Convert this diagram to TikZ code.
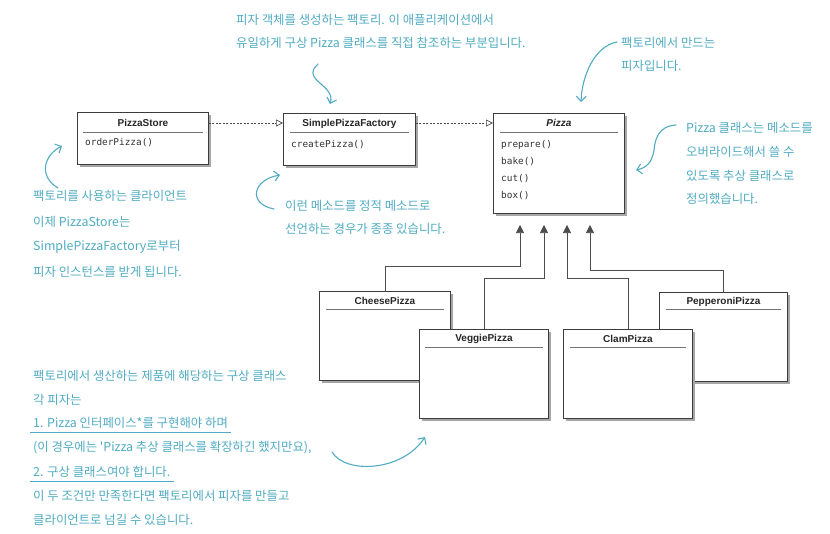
\documentclass[tikz,border=0pt]{standalone}
\usepackage{fontspec}
\setmainfont{Liberation Sans}
\setmonofont{DejaVu Sans Mono}
\newfontfamily\kr{Noto Sans CJK KR}
\usetikzlibrary{arrows.meta,shadows,calc}
\definecolor{ann}{RGB}{80,172,194}
\definecolor{boxline}{RGB}{60,60,60}
\begin{document}
\begin{tikzpicture}[x=1pt,y=-1pt,
 cls/.style={draw=boxline, line width=0.9pt, fill=white, rectangle, inner sep=0, anchor=north west,
   drop shadow={shadow xshift=3pt, shadow yshift=-3pt, fill=black!35, opacity=1}},
 ctitle/.style={font=\fontsize{10}{12}\selectfont\bfseries, text=black!85, inner sep=0},
 meth/.style={font=\fontsize{9.4}{11}\selectfont\ttfamily, text=black!80, anchor=west, inner sep=0},
 sepline/.style={draw=black!55, line width=0.6pt},
 note/.style={font=\kr\fontsize{12.4}{14}\selectfont, text=ann, anchor=west, inner sep=0},
 noteline/.style={draw=ann, line width=1.1pt, line cap=round, -{Straight Barb[length=5pt,width=10pt]}},
 uline/.style={draw=ann, line width=0.8pt},
 dep/.style={draw=black!70, line width=0.7pt, dash pattern=on 2pt off 1.5pt, -{Triangle[open,length=7pt,width=7pt]}},
 inh/.style={draw=black!70, line width=0.7pt, -{Triangle[length=8pt,width=8pt]}}
]
\useasboundingbox[fill=white] (0,0) rectangle (830,533);

% ---------- inheritance targets ----------
\coordinate (t1) at (520,225);
\coordinate (t2) at (544,225);
\coordinate (t3) at (567,225);
\coordinate (t4) at (590,225);

% ---------- class boxes ----------
\node[cls, minimum width=131pt, minimum height=52pt] (store) at (77,112) {};
\node[cls, minimum width=132pt, minimum height=52pt] (spf) at (283,113) {};
\node[cls, minimum width=131pt, minimum height=100pt] (pizza) at (493,113) {};
\node[cls, minimum width=131pt, minimum height=89pt] (cheese) at (319,291) {};
\node[cls, minimum width=128pt, minimum height=89pt] (pepp) at (659,292) {};
\node[cls, minimum width=129pt, minimum height=89pt] (veggie) at (419,329) {};
\node[cls, minimum width=129pt, minimum height=89pt] (clam) at (563,329) {};

\draw[inh] (cheese.north) -- ++(0,-25) -| (t1);
\draw[inh] (veggie.north) -- ++(0,-51) -| (t2);
\draw[inh] (clam.north) -- ++(0,-51) -| (t3);
\draw[inh] (pepp.north) -- ++(0,-22) -| (t4);

% titles
\node[ctitle] (storeT) at ($(store.north)+(0,11)$) {PizzaStore};
\node[ctitle] (spfT) at ($(spf.north)+(0,11)$) {SimplePizzaFactory};
\node[ctitle, font=\fontsize{10}{12}\selectfont\bfseries\itshape] (pizzaT) at ($(pizza.north)+(0,10)$) {Pizza};
\node[ctitle] (cheeseT) at ($(cheese.north)+(0,10)$) {CheesePizza};
\node[ctitle] (veggieT) at ($(veggie.north)+(0,10)$) {VeggiePizza};
\node[ctitle] (clamT) at ($(clam.north)+(0,10)$) {ClamPizza};
\node[ctitle] (peppT) at ($(pepp.north)+(0,10)$) {PepperoniPizza};

% separators
\draw[sepline] ($(store.north west)+(6,20)$) -- ($(store.north east)+(-6,20)$);
\draw[sepline] ($(spf.north west)+(7,19)$) -- ($(spf.north east)+(-7,19)$);
\draw[sepline] ($(pizza.north west)+(7,19)$) -- ($(pizza.north east)+(-7,19)$);
\draw[sepline] ($(cheese.north west)+(7,18)$) -- ($(cheese.north east)+(-7,18)$);
\draw[sepline] ($(veggie.north west)+(6,18)$) -- ($(veggie.north east)+(-6,18)$);
\draw[sepline] ($(clam.north west)+(7,18)$) -- ($(clam.north east)+(-7,18)$);
\draw[sepline] ($(pepp.north west)+(7,17)$) -- ($(pepp.north east)+(-7,17)$);

% methods
\node[meth] (m1) at (85,143) {orderPizza()};
\node[meth] (m2) at (291,145) {createPizza()};
\node[meth] (m3) at (501,145) {prepare()};
\node[meth] (m4) at (501,162) {bake()};
\node[meth] (m5) at (501,179) {cut()};
\node[meth] (m6) at (501,196) {box()};

% dependencies
\draw[dep] ($(store.north east)+(0,11)$) -- ($(spf.north west)+(0,10)$);
\draw[dep] ($(spf.north east)+(0,10)$) -- ($(pizza.north west)+(0,10)$);

% ---------- annotations ----------
\node[note] (top1) at (236,20) {피자 객체를 생성하는 팩토리. 이 애플리케이션에서};
\node[note] (top2) at (236,43) {유일하게 구상 Pizza 클래스를 직접 참조하는 부분입니다.};
\coordinate (a1s) at (318,64);
\coordinate (a1e) at (330,104);
\draw[noteline] (a1s) .. controls (300,80) and (336,85) .. (a1e);

\node[note] (pr1) at (621,43) {팩토리에서 만드는};
\node[note] (pr2) at (621,66) {피자입니다.};
\coordinate (a2s) at (617,42);
\coordinate (a2e) at (581,102);
\draw[noteline] (a2s) .. controls (595,46) and (582,75) .. (a2e);

\node[note] (ps1) at (33,196) {팩토리를 사용하는 클라이언트};
\node[note] (ps2) at (33,222) {이제 PizzaStore는};
\node[note] (ps3) at (33,247) {SimplePizzaFactory로부터};
\node[note] (ps4) at (33,272) {피자 인스턴스를 받게 됩니다.};
\coordinate (a3s) at (58,188);
\coordinate (a3e) at (62,146);
\draw[noteline] (a3s) .. controls (38,176) and (44,155) .. (a3e);

\node[note] (sm1) at (285,206) {이런 메소드를 정적 메소드로};
\node[note] (sm2) at (285,229) {선언하는 경우가 종종 있습니다.};
\coordinate (a4s) at (274,209);
\coordinate (a4e) at (280,175);
\draw[noteline] (a4s) .. controls (248,204) and (252,180) .. (a4e);

\node[note] (pz1) at (686,128) {Pizza 클래스는 메소드를};
\node[note] (pz2) at (686,152) {오버라이드해서 쓸 수};
\node[note] (pz3) at (686,176) {있도록 추상 클래스로};
\node[note] (pz4) at (686,199) {정의했습니다.};
\coordinate (a5s) at (676,125);
\coordinate (a5e) at (636,170);
\draw[noteline] (a5s) .. controls (658,126) and (655,140) .. (654,150) .. controls (652,163) and (646,168) .. (a5e);

\node[note] (b1) at (33,376) {팩토리에서 생산하는 제품에 해당하는 구상 클래스};
\node[note] (b2) at (33,400) {각 피자는};
\node[note] (b3) at (33,423) {1. Pizza 인터페이스*를 구현해야 하며};
\node[note] (b4) at (33,448) {(이 경우에는 'Pizza 추상 클래스를 확장하긴 했지만요),};
\node[note] (b5) at (33,472) {2. 구상 클래스여야 합니다.};
\node[note] (b6) at (33,496) {이 두 조건만 만족한다면 팩토리에서 피자를 만들고};
\node[note] (b7) at (33,520) {클라이언트로 넘길 수 있습니다.};
\draw[uline] ($(b3.south west)+(-3,4)$) -- ($(b3.south east)+(3,4)$);
\draw[uline] ($(b5.south west)+(-3,4)$) -- ($(b5.south east)+(3,4)$);
\coordinate (a6s) at (332,452);
\coordinate (a6e) at (425,437);
\draw[noteline] (a6s) .. controls (345,474) and (402,472) .. (a6e);
\end{tikzpicture}
\end{document}
